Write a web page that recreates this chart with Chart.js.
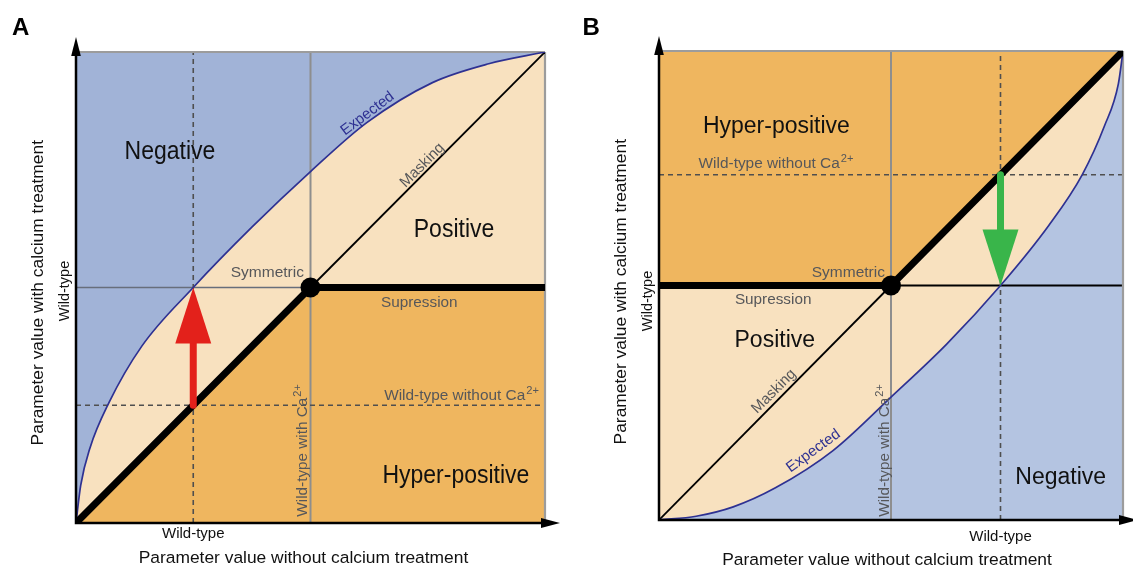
<!DOCTYPE html>
<html>
<head>
<meta charset="utf-8">
<script src="https://cdn.jsdelivr.net/npm/chart.js@4.4.1/dist/chart.umd.min.js"></script>
<style>
  html, body { margin: 0; padding: 0; background: #ffffff; overflow: hidden; }
  #wrap { position: relative; width: 1133px; height: 568px; }
  #panelA { position: absolute; left: 0; top: 0; }
  #panelB { position: absolute; left: 566px; top: 0; }
</style>
</head>
<body>
<div id="wrap">
  <canvas id="panelA" width="566" height="568"></canvas>
  <canvas id="panelB" width="567" height="568"></canvas>
</div>
<script>
// ---- values (normalised parameter units, 0..1 on both axes) ----
const wildTypeA = 0.25;     // wild-type without Ca2+, panel A
const wildTypeB = 0.736;    // wild-type without Ca2+, panel B
const withCa = 0.5;         // wild-type with Ca2+

// "Expected" curves
const expectedAx = [0, 0.01, 0.03, 0.07, 0.14, 0.25, 0.375, 0.5, 0.62, 0.76, 0.88, 1];
const expectedAy = [0, 0.08, 0.16, 0.255, 0.375, 0.5, 0.628, 0.746, 0.85, 0.935, 0.975, 1];
const expectedBx = [0, 0.08, 0.16, 0.25, 0.375, 0.5, 0.62, 0.736, 0.84, 0.912, 0.96, 0.99, 1];
const expectedBy = [0, 0.008, 0.028, 0.068, 0.148, 0.262, 0.375, 0.5, 0.628, 0.736, 0.84, 0.93, 1];

// thick response lines (symmetric / suppression)
const responseAx = [0, 0.5, 1];
const responseAy = [0, 0.5, 0.5];
const responseBx = [0, 0.5, 1];
const responseBy = [0.5, 0.5, 1];

// thin masking lines
const maskingAx = [0.5, 1];
const maskingAy = [0.5, 1];
const maskingBx = [0, 0.5];
const maskingBy = [0, 0.5];

// shift arrows: [x, from y, to y]
const shiftA = [wildTypeA, wildTypeA, withCa];
const shiftB = [wildTypeB, wildTypeB, withCa];

// ---- styling ----
const FONT = '"Liberation Sans", Arial, Helvetica, sans-serif';
const GRAY_TEXT = '#56575a';
const BLUE_A = '#a1b3d7';
const BLUE_B = '#b4c4e1';
const PEACH = '#f8e1bf';
const ORANGE = '#efb65f';
const CURVE = '#2e3192';

const pts = (xs, ys) => xs.map((x, i) => ({ x, y: ys[i] }));

function fillSet(data, color, order, smooth) {
  return {
    data, order, showLine: true, fill: 'start',
    backgroundColor: color, borderColor: 'rgba(0,0,0,0)', borderWidth: 0,
    pointRadius: 0, cubicInterpolationMode: smooth ? 'monotone' : 'default'
  };
}
function lineSet(data, color, width, order, extra) {
  return Object.assign({
    data, order, showLine: true, fill: false,
    borderColor: color, borderWidth: width, pointRadius: 0
  }, extra || {});
}

function drawLabel(chart, t) {
  const ctx = chart.ctx;
  const px = chart.scales.x.getPixelForValue(t.x);
  const py = chart.scales.y.getPixelForValue(t.y);
  const mainFont = (t.bold ? 'bold ' : '') + t.size + 'px ' + FONT;
  const supFont = (t.size * 0.72).toFixed(1) + 'px ' + FONT;
  ctx.save();
  ctx.translate(px, py);
  if (t.rot) ctx.rotate(t.rot * Math.PI / 180);
  if (t.sy) ctx.scale(1, t.sy);
  ctx.fillStyle = t.color || '#111';
  ctx.textBaseline = 'alphabetic';
  ctx.textAlign = 'left';
  ctx.font = mainFont;
  const w1 = ctx.measureText(t.text).width;
  let w2 = 0;
  if (t.sup) { ctx.font = supFont; w2 = ctx.measureText(t.sup).width + 1; ctx.font = mainFont; }
  const total = w1 + w2;
  const x0 = t.align === 'center' ? -total / 2 : (t.align === 'right' ? -total : 0);
  ctx.fillText(t.text, x0, 0);
  if (t.sup) { ctx.font = supFont; ctx.fillText(t.sup, x0 + w1 + 1, -t.size * 0.38); }
  ctx.restore();
}

function drawAxes(chart) {
  const ctx = chart.ctx, a = chart.chartArea;
  ctx.save();
  ctx.strokeStyle = '#000'; ctx.fillStyle = '#000'; ctx.lineWidth = 2.5;
  ctx.beginPath();
  ctx.moveTo(a.left, a.bottom + 1.2); ctx.lineTo(a.left, a.top - 6);
  ctx.moveTo(a.left - 1.2, a.bottom); ctx.lineTo(a.right + 6, a.bottom);
  ctx.stroke();
  ctx.beginPath();
  ctx.moveTo(a.left, a.top - 15); ctx.lineTo(a.left - 4.8, a.top + 4); ctx.lineTo(a.left + 4.8, a.top + 4);
  ctx.closePath(); ctx.fill();
  ctx.beginPath();
  ctx.moveTo(a.right + 15, a.bottom); ctx.lineTo(a.right - 4, a.bottom - 5); ctx.lineTo(a.right - 4, a.bottom + 5);
  ctx.closePath(); ctx.fill();
  ctx.restore();
}

function drawShift(chart, shift, color) {
  const ctx = chart.ctx;
  const x = chart.scales.x.getPixelForValue(shift[0]);
  const y0 = chart.scales.y.getPixelForValue(shift[1]);
  const y1 = chart.scales.y.getPixelForValue(shift[2]);
  const dir = Math.sign(y1 - y0);
  const headL = 56, headHalf = 18;
  const yb = y1 - dir * headL;
  ctx.save();
  ctx.strokeStyle = color; ctx.fillStyle = color;
  ctx.lineWidth = 7; ctx.lineCap = 'round';
  ctx.beginPath(); ctx.moveTo(x, y0); ctx.lineTo(x, yb + dir * 2); ctx.stroke();
  ctx.beginPath();
  ctx.moveTo(x, y1); ctx.lineTo(x - headHalf, yb); ctx.lineTo(x + headHalf, yb);
  ctx.closePath(); ctx.fill();
  ctx.restore();
}

function overlay(labels, shift, arrowColor) {
  return {
    id: 'overlay',
    afterDatasetsDraw(chart) {
      drawAxes(chart);
      drawShift(chart, shift, arrowColor);
    },
    afterDraw(chart) {
      labels.forEach(t => drawLabel(chart, t));
    }
  };
}

function baseOptions(padding) {
  return {
    responsive: false, animation: false, events: [],
    layout: { padding },
    plugins: { legend: { display: false }, tooltip: { enabled: false } },
    scales: {
      x: { type: 'linear', min: 0, max: 1, display: false },
      y: { type: 'linear', min: 0, max: 1, display: false }
    }
  };
}

// ---- panel A: increase in parameter value ----
const labelsA = [
  { text: 'A', x: -0.1365, y: 1.036, size: 24, bold: true, color: '#000' },
  { text: 'Negative', x: 0.2004, y: 0.7728, size: 23, align: 'center', sy: 1.1 },
  { text: 'Positive', x: 0.806, y: 0.608, size: 23, align: 'center', sy: 1.1 },
  { text: 'Hyper-positive', x: 0.81, y: 0.0856, size: 23, align: 'center', sy: 1.1 },
  { text: 'Symmetric', x: 0.486, y: 0.523, size: 15.5, align: 'right', color: GRAY_TEXT },
  { text: 'Supression', x: 0.732, y: 0.459, size: 15.3, align: 'center', color: GRAY_TEXT },
  { text: 'Wild-type without Ca', sup: '2+', x: 0.657, y: 0.261, size: 15.4, color: GRAY_TEXT },
  { text: 'Wild-type with Ca', sup: '2+', x: 0.4915, y: 0.0134, rot: -90, size: 15.3, color: GRAY_TEXT },
  { text: 'Masking', x: 0.7446, y: 0.7533, rot: -45, size: 15, align: 'center', color: GRAY_TEXT },
  { text: 'Expected', x: 0.627, y: 0.862, rot: -37, size: 15, align: 'center', color: CURVE },
  { text: 'Parameter value with calcium treatment', x: -0.0714, y: 0.489, rot: -90, size: 17.4, align: 'center' },
  { text: 'Wild-type', x: -0.0139, y: 0.4926, rot: -90, size: 14.5, align: 'center' },
  { text: 'Parameter value without calcium treatment', x: 0.485, y: -0.085, size: 17.4, align: 'center' },
  { text: 'Wild-type', x: wildTypeA, y: -0.0318, size: 15, align: 'center' }
];

new Chart(document.getElementById('panelA'), {
  type: 'scatter',
  data: {
    datasets: [
      fillSet(pts([0, 1], [1, 1]), BLUE_A, 100, false),
      fillSet(pts(expectedAx, expectedAy), PEACH, 99, true),
      fillSet(pts(responseAx, responseAy), ORANGE, 98, false),
      lineSet(pts([withCa, withCa], [0, 1]), '#8e8e8e', 2, 50),
      lineSet(pts([0, withCa], [withCa, withCa]), '#676e7b', 1.6, 49),
      lineSet(pts([wildTypeA, wildTypeA], [0, 1]), '#4f4f4f', 1.6, 48, { borderDash: [5, 4] }),
      lineSet(pts([0, 1], [wildTypeA, wildTypeA]), '#4f4f4f', 1.6, 47, { borderDash: [5, 4] }),
      lineSet(pts([0, 1], [1, 1]), '#9c9c9c', 2.2, 46, { clip: false }),
      lineSet(pts([1, 1], [0, 1]), '#9c9c9c', 2.2, 45, { clip: false }),
      lineSet(pts(maskingAx, maskingAy), '#000', 1.8, 40),
      lineSet(pts(expectedAx, expectedAy), CURVE, 1.7, 30, { cubicInterpolationMode: 'monotone' }),
      lineSet(pts(responseAx, responseAy), '#000', 7, 20),
      { data: pts([withCa], [withCa]), order: 10, showLine: false, pointRadius: 10,
        pointBackgroundColor: '#000', pointBorderColor: '#000', pointBorderWidth: 0 }
    ]
  },
  options: baseOptions({ left: 76, right: 21, top: 52, bottom: 45 }),
  plugins: [overlay(labelsA, shiftA, '#e3211b')]
});

// ---- panel B: decrease in parameter value ----
const labelsB = [
  { text: 'B', x: -0.165, y: 1.034, size: 24, bold: true, color: '#000' },
  { text: 'Hyper-positive', x: 0.253, y: 0.8245, size: 23, align: 'center' },
  { text: 'Positive', x: 0.2495, y: 0.3695, size: 23, align: 'center' },
  { text: 'Negative', x: 0.8657, y: 0.0768, size: 23, align: 'center' },
  { text: 'Symmetric', x: 0.487, y: 0.519, size: 15.5, align: 'right', color: GRAY_TEXT },
  { text: 'Supression', x: 0.246, y: 0.4606, size: 15.3, align: 'center', color: GRAY_TEXT },
  { text: 'Wild-type without Ca', sup: '2+', x: 0.0853, y: 0.75, size: 15.4, color: GRAY_TEXT },
  { text: 'Wild-type with Ca', sup: '2+', x: 0.4957, y: 0.007, rot: -90, size: 15.3, color: GRAY_TEXT },
  { text: 'Masking', x: 0.254, y: 0.268, rot: -45, size: 15, align: 'center', color: GRAY_TEXT },
  { text: 'Expected', x: 0.338, y: 0.14, rot: -36, size: 15, align: 'center', color: CURVE },
  { text: 'Parameter value with calcium treatment', x: -0.071, y: 0.4868, rot: -90, size: 17.4, align: 'center' },
  { text: 'Wild-type', x: -0.015, y: 0.467, rot: -90, size: 14.5, align: 'center' },
  { text: 'Parameter value without calcium treatment', x: 0.4915, y: -0.096, size: 17.4, align: 'center' },
  { text: 'Wild-type', x: wildTypeB, y: -0.0441, size: 15, align: 'center' }
];

new Chart(document.getElementById('panelB'), {
  type: 'scatter',
  data: {
    datasets: [
      fillSet(pts([0, 1], [1, 1]), ORANGE, 100, false),
      fillSet(pts(responseBx, responseBy), PEACH, 99, false),
      fillSet(pts(expectedBx, expectedBy), BLUE_B, 98, true),
      lineSet(pts([withCa, withCa], [0, 1]), '#8e8e8e', 2, 50),
      lineSet(pts([withCa, 1], [withCa, withCa]), '#000', 2.2, 49),
      lineSet(pts([wildTypeB, wildTypeB], [0, 1]), '#4f4f4f', 1.6, 48, { borderDash: [5, 4] }),
      lineSet(pts([0, 1], [wildTypeB, wildTypeB]), '#4f4f4f', 1.6, 47, { borderDash: [5, 4] }),
      lineSet(pts([0, 1], [1, 1]), '#9c9c9c', 2.2, 46, { clip: false }),
      lineSet(pts([1, 1], [0, 1]), '#9c9c9c', 2.2, 45, { clip: false }),
      lineSet(pts(maskingBx, maskingBy), '#000', 1.8, 40),
      lineSet(pts(expectedBx, expectedBy), CURVE, 1.7, 30, { cubicInterpolationMode: 'monotone' }),
      lineSet(pts(responseBx, responseBy), '#000', 7, 20),
      { data: pts([withCa], [withCa]), order: 10, showLine: false, pointRadius: 10,
        pointBackgroundColor: '#000', pointBorderColor: '#000', pointBorderWidth: 0 }
    ]
  },
  options: baseOptions({ left: 93, right: 5, top: 51, bottom: 48 }),
  plugins: [overlay(labelsB, shiftB, '#39b54a')]
});
</script>
</body>
</html>
